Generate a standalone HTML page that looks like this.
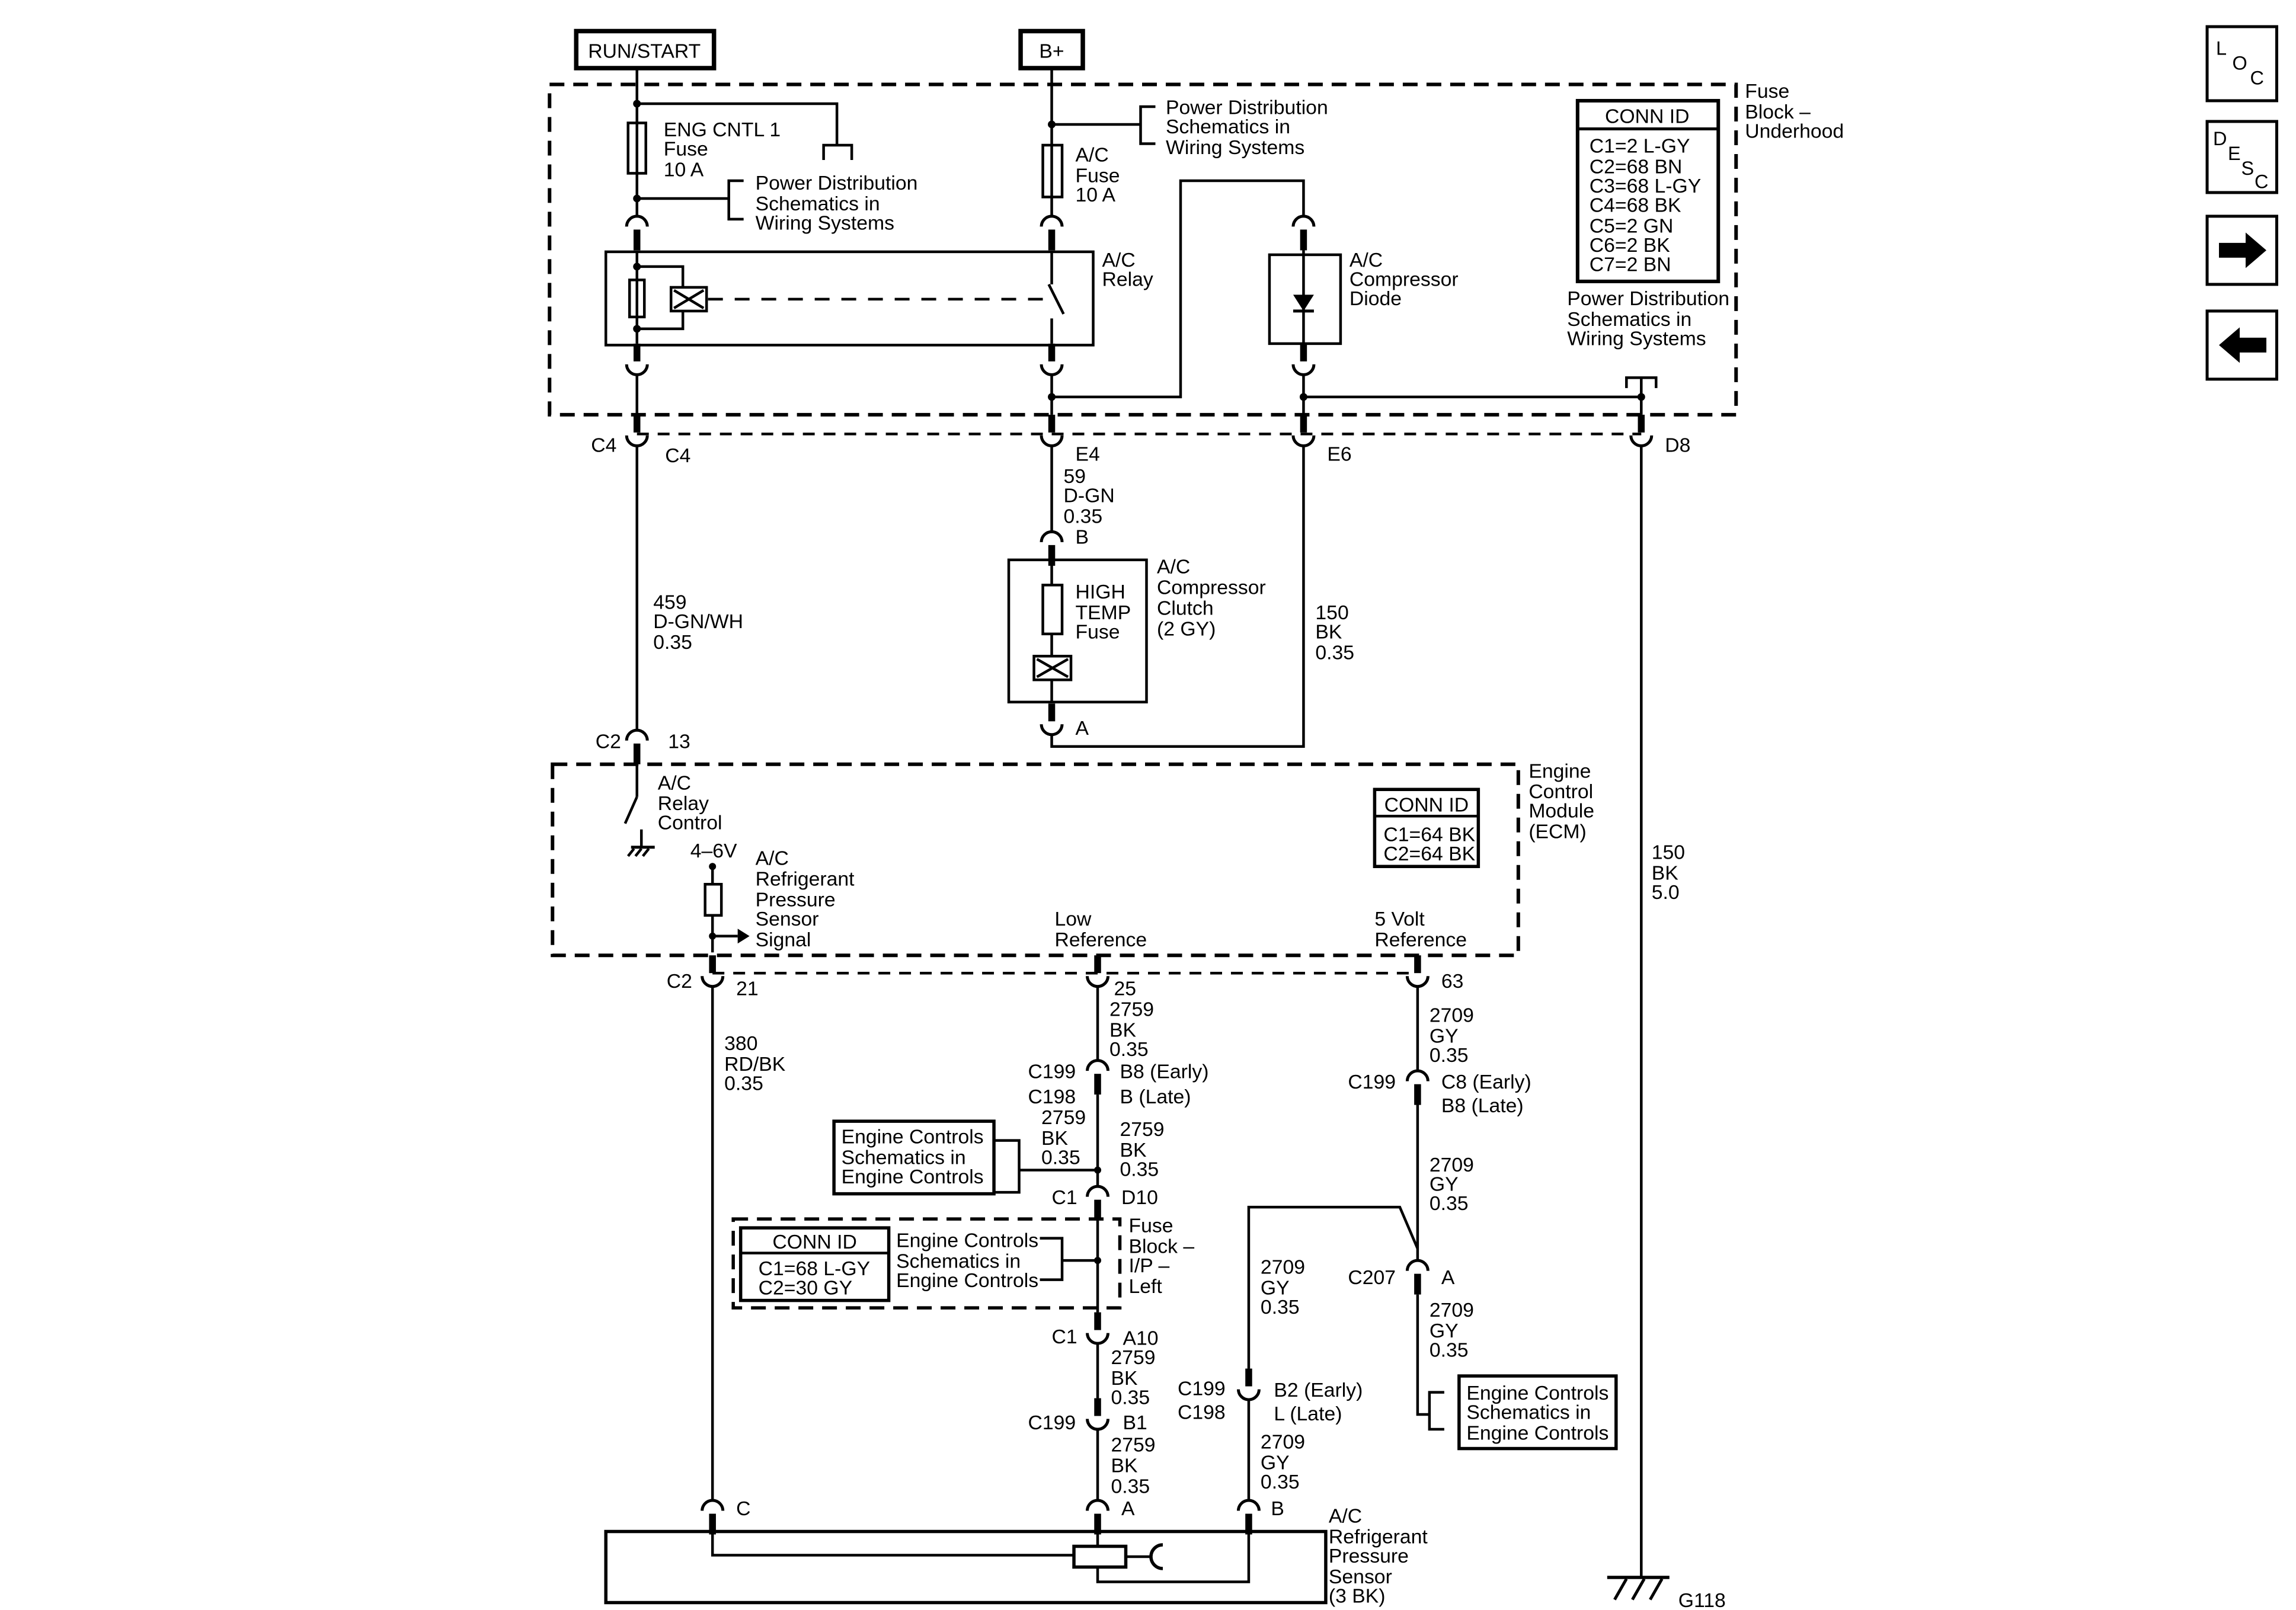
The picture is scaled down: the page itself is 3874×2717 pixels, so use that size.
<!DOCTYPE html>
<html><head><meta charset="utf-8">
<style>
html,body{margin:0;padding:0;background:#fff;}
svg{display:block;}
text{font-family:"Liberation Sans",Arial,sans-serif;font-size:13.5px;fill:#000;}
</style></head>
<body>
<svg width="3874" height="2717" viewBox="0 0 1550 1087" preserveAspectRatio="none" xmlns="http://www.w3.org/2000/svg">
<defs>
<g id="cap"><path d="M-7,0 A7,7 0 0 1 7,0" fill="none" stroke="#000" stroke-width="2"/><rect x="-2.3" y="2" width="4.6" height="14" fill="#000"/></g>
<g id="cup"><path d="M-7,0 A7,7 0 0 0 7,0" fill="none" stroke="#000" stroke-width="2"/><rect x="-2.3" y="-14" width="4.6" height="12" fill="#000"/></g>
</defs>
<rect width="1550" height="1087" fill="#fff"/>
<g stroke="#000" stroke-width="1.8" fill="none">
<!-- power boxes -->
<rect x="389" y="21" width="93" height="25" stroke-width="3"/>
<rect x="689" y="21" width="42" height="25" stroke-width="3"/>
<!-- fuse block dashed -->
<rect x="371" y="57" width="801" height="223" stroke-width="2.4" stroke-dasharray="10,6"/>
<line x1="430" y1="293" x2="1108" y2="293" stroke-dasharray="8,6"/>
<!-- column 430 -->
<line x1="430" y1="46" x2="430" y2="146"/>
<rect x="424" y="83" width="12" height="34"/>
<polyline points="430,70 565,70 565,98"/>
<polyline points="556,108 556,98 575,98 575,108"/>
<line x1="430" y1="134" x2="492" y2="134"/>
<polyline points="502,122 492,122 492,148 502,148"/>
<line x1="430" y1="170" x2="430" y2="232"/>
<rect x="409" y="170" width="329" height="63"/>
<rect x="425" y="189" width="10" height="25"/>
<polyline points="430,180 461,180 461,194"/>
<polyline points="430,222 461,222 461,210"/>
<rect x="453" y="194" width="24" height="16"/>
<path d="M455,196 L475,208 M455,208 L475,196"/>
<line x1="478" y1="202" x2="712" y2="202" stroke-dasharray="10,8"/>
<line x1="430" y1="253" x2="430" y2="280"/>
<line x1="430" y1="301" x2="430" y2="493"/>
<!-- column 710 -->
<line x1="710" y1="46" x2="710" y2="146"/>
<rect x="704" y="98" width="13" height="35"/>
<line x1="710" y1="84" x2="770" y2="84"/>
<polyline points="780,72 770,72 770,97 780,97"/>
<line x1="710" y1="170" x2="710" y2="192"/>
<line x1="708" y1="192" x2="718" y2="212"/>
<line x1="710" y1="215" x2="710" y2="232"/>
<line x1="710" y1="253" x2="710" y2="280"/>
<polyline points="710,268 797,268 797,122 880,122 880,146"/>
<line x1="710" y1="301" x2="710" y2="359"/>
<rect x="681" y="378" width="93" height="96"/>
<line x1="710" y1="378" x2="710" y2="395"/>
<rect x="704" y="395" width="13" height="33"/>
<line x1="710" y1="428" x2="710" y2="443"/>
<rect x="698" y="443" width="25" height="16"/>
<path d="M700,445 L721,457 M700,457 L721,445"/>
<line x1="710" y1="459" x2="710" y2="474"/>
<polyline points="710,496 710,504 880,504 880,301"/>
<!-- column 880 diode -->
<rect x="857" y="172" width="48" height="60"/>
<line x1="880" y1="169" x2="880" y2="232"/>
<line x1="873" y1="210" x2="887" y2="210" stroke-width="2"/>
<line x1="880" y1="253" x2="880" y2="280"/>
<line x1="880" y1="268" x2="1108" y2="268"/>
<line x1="1108" y1="255" x2="1108" y2="280"/>
<polyline points="1098,262 1098,255 1118,255 1118,262"/>
<line x1="1108" y1="301" x2="1108" y2="1065"/>
<!-- ground -->
<line x1="1085" y1="1065" x2="1127" y2="1065" stroke-width="2.2"/>
<path d="M1098,1066 L1090,1080 M1110,1066 L1102,1080 M1122,1066 L1114,1080" stroke-width="2"/>
<!-- conn id top -->
<rect x="1065" y="68" width="95" height="122" stroke-width="2.4"/>
<line x1="1065" y1="87" x2="1160" y2="87" stroke-width="2"/>
<!-- ECM -->
<rect x="373" y="516" width="652" height="129" stroke-width="2.4" stroke-dasharray="10,6"/>
<line x1="481" y1="657" x2="957" y2="657" stroke-dasharray="8,6"/>
<line x1="430" y1="516" x2="430" y2="538"/>
<line x1="430" y1="538" x2="422" y2="556"/>
<line x1="433" y1="560" x2="433" y2="572"/>
<line x1="426" y1="572" x2="442" y2="572" stroke-width="2"/>
<path d="M428,573 L424,578 M433,573 L429,578 M438,573 L434,578"/>
<line x1="481" y1="585" x2="481" y2="597"/>
<rect x="476" y="597" width="11" height="21"/>
<line x1="481" y1="618" x2="481" y2="643"/>
<line x1="481" y1="632" x2="498" y2="632"/>
<rect x="928" y="533" width="70" height="52" stroke-width="2.2"/>
<line x1="928" y1="551" x2="998" y2="551"/>
<!-- col 481 down -->
<line x1="481" y1="666" x2="481" y2="1013"/>
<polyline points="481,1034 481,1050 725,1050"/>
<!-- col 741 -->
<line x1="741" y1="666" x2="741" y2="716"/>
<line x1="741" y1="739" x2="741" y2="801"/>
<line x1="741" y1="824" x2="741" y2="886"/>
<line x1="741" y1="907" x2="741" y2="944"/>
<line x1="741" y1="965" x2="741" y2="1013"/>
<line x1="741" y1="1036" x2="741" y2="1044"/>
<rect x="725" y="1044" width="35" height="14" stroke-width="2.2"/>
<polyline points="741,1058 741,1068 843,1068 843,1036"/>
<line x1="760" y1="1051" x2="777" y2="1051"/>
<path d="M785,1043 A8,8 0 0 0 785,1059" stroke-width="2.2"/>
<rect x="409" y="1034" width="486" height="48" stroke-width="2.2"/>
<rect x="563" y="757" width="108" height="49" stroke-width="2.2"/>
<polyline points="671,770 688,770 688,805 671,805"/>
<line x1="688" y1="790" x2="741" y2="790"/>
<rect x="495" y="823" width="261" height="60" stroke-width="2.2" stroke-dasharray="10,6"/>
<rect x="500" y="829" width="100" height="49" stroke-width="2.2"/>
<line x1="500" y1="846" x2="600" y2="846"/>
<polyline points="702,836 717,836 717,864 702,864"/>
<line x1="717" y1="851" x2="741" y2="851"/>
<!-- col 957 -->
<line x1="957" y1="666" x2="957" y2="723"/>
<line x1="957" y1="745" x2="957" y2="851"/>
<polyline points="843,924 843,815 945,815 957,843"/>
<line x1="843" y1="945" x2="843" y2="1013"/>
<polyline points="957,874 957,955 965,955"/>
<polyline points="975,940 965,940 965,965 975,965"/>
<rect x="985" y="929" width="106" height="49" stroke-width="2.2"/>
<!-- icons -->
<rect x="1490" y="18" width="47" height="50" stroke-width="2"/>
<rect x="1490" y="82" width="47" height="48" stroke-width="2"/>
<rect x="1490" y="146" width="47" height="46" stroke-width="2"/>
<rect x="1490" y="210" width="47" height="46" stroke-width="2"/>
</g>
<!-- filled bits -->
<g fill="#000">
<path d="M873,199 L887,199 L880,210 Z"/>
<path d="M498,627 L506,632 L498,637 Z"/>
<path d="M1498,164 L1516,164 L1516,157 L1530,169 L1516,181 L1516,174 L1498,174 Z"/>
<path d="M1530,228 L1512,228 L1512,221 L1498,233 L1512,245 L1512,238 L1530,238 Z"/>
<circle cx="430" cy="70" r="2.6"/><circle cx="430" cy="134" r="2.6"/>
<circle cx="710" cy="84" r="2.6"/><circle cx="430" cy="180" r="2.6"/><circle cx="430" cy="222" r="2.6"/>
<circle cx="710" cy="268" r="2.6"/><circle cx="880" cy="268" r="2.6"/><circle cx="1108" cy="268" r="2.6"/>
<circle cx="481" cy="585" r="2.4"/><circle cx="481" cy="632" r="2.4"/>
<circle cx="741" cy="790" r="2.4"/><circle cx="741" cy="851" r="2.4"/>
</g>
<!-- connectors -->
<use href="#cap" x="430" y="153"/><use href="#cap" x="710" y="153"/><use href="#cap" x="880" y="153"/>
<use href="#cup" x="430" y="246"/><use href="#cup" x="710" y="246"/><use href="#cup" x="880" y="246"/>
<use href="#cup" x="430" y="294"/><use href="#cup" x="710" y="294"/><use href="#cup" x="880" y="294"/><use href="#cup" x="1108" y="294"/>
<use href="#cap" x="710" y="366"/><use href="#cup" x="710" y="489"/>
<use href="#cap" x="430" y="500"/>
<use href="#cup" x="481" y="659"/><use href="#cup" x="741" y="659"/><use href="#cup" x="957" y="659"/>
<use href="#cap" x="741" y="723"/><use href="#cap" x="741" y="808"/><use href="#cup" x="741" y="900"/><use href="#cup" x="741" y="958"/><use href="#cap" x="741" y="1020"/>
<use href="#cap" x="957" y="730"/><use href="#cap" x="957" y="858"/>
<use href="#cup" x="843" y="938"/><use href="#cap" x="843" y="1020"/><use href="#cap" x="481" y="1020"/>

<!-- text -->
<text x="435" y="39" text-anchor="middle">RUN/START</text>
<text x="710" y="39" text-anchor="middle">B+</text>
<text x="448" y="92">ENG CNTL 1</text><text x="448" y="105">Fuse</text><text x="448" y="119">10 A</text>
<text x="510" y="128">Power Distribution</text><text x="510" y="142">Schematics in</text><text x="510" y="155">Wiring Systems</text>
<text x="726" y="109">A/C</text><text x="726" y="123">Fuse</text><text x="726" y="136">10 A</text>
<text x="787" y="77">Power Distribution</text><text x="787" y="90">Schematics in</text><text x="787" y="104">Wiring Systems</text>
<text x="744" y="180">A/C</text><text x="744" y="193">Relay</text>
<text x="911" y="180">A/C</text><text x="911" y="193">Compressor</text><text x="911" y="206">Diode</text>
<text x="1112" y="83" text-anchor="middle">CONN ID</text>
<text x="1073" y="103">C1=2 L-GY</text><text x="1073" y="117">C2=68 BN</text><text x="1073" y="130">C3=68 L-GY</text><text x="1073" y="143">C4=68 BK</text><text x="1073" y="157">C5=2 GN</text><text x="1073" y="170">C6=2 BK</text><text x="1073" y="183">C7=2 BN</text>
<text x="1058" y="206">Power Distribution</text><text x="1058" y="220">Schematics in</text><text x="1058" y="233">Wiring Systems</text>
<text x="1178" y="66">Fuse</text><text x="1178" y="80">Block –</text><text x="1178" y="93">Underhood</text>
<text x="399" y="305">C4</text><text x="449" y="312">C4</text><text x="726" y="311">E4</text><text x="896" y="311">E6</text><text x="1124" y="305">D8</text>
<text x="718" y="326">59</text><text x="718" y="339">D-GN</text><text x="718" y="353">0.35</text><text x="726" y="367">B</text>
<text x="781" y="387">A/C</text><text x="781" y="401">Compressor</text><text x="781" y="415">Clutch</text><text x="781" y="429">(2 GY)</text>
<text x="726" y="404">HIGH</text><text x="726" y="418">TEMP</text><text x="726" y="431">Fuse</text>
<text x="726" y="496">A</text>
<text x="888" y="418">150</text><text x="888" y="431">BK</text><text x="888" y="445">0.35</text>
<text x="441" y="411">459</text><text x="441" y="424">D-GN/WH</text><text x="441" y="438">0.35</text>
<text x="402" y="505">C2</text><text x="451" y="505">13</text>
<text x="444" y="533">A/C</text><text x="444" y="547">Relay</text><text x="444" y="560">Control</text>
<text x="466" y="579">4–6V</text>
<text x="510" y="584">A/C</text><text x="510" y="598">Refrigerant</text><text x="510" y="612">Pressure</text><text x="510" y="625">Sensor</text><text x="510" y="639">Signal</text>
<text x="712" y="625">Low</text><text x="712" y="639">Reference</text>
<text x="928" y="625">5 Volt</text><text x="928" y="639">Reference</text>
<text x="963" y="548" text-anchor="middle">CONN ID</text><text x="934" y="568">C1=64 BK</text><text x="934" y="581">C2=64 BK</text>
<text x="1032" y="525">Engine</text><text x="1032" y="539">Control</text><text x="1032" y="552">Module</text><text x="1032" y="566">(ECM)</text>
<text x="1115" y="580">150</text><text x="1115" y="594">BK</text><text x="1115" y="607">5.0</text>
<text x="450" y="667">C2</text><text x="497" y="672">21</text>
<text x="752" y="672">25</text><text x="749" y="686">2759</text><text x="749" y="700">BK</text><text x="749" y="713">0.35</text>
<text x="973" y="667">63</text><text x="965" y="690">2709</text><text x="965" y="704">GY</text><text x="965" y="717">0.35</text>
<text x="489" y="709">380</text><text x="489" y="723">RD/BK</text><text x="489" y="736">0.35</text>
<text x="694" y="728">C199</text><text x="694" y="745">C198</text><text x="756" y="728">B8 (Early)</text><text x="756" y="745">B (Late)</text>
<text x="703" y="759">2759</text><text x="703" y="773">BK</text><text x="703" y="786">0.35</text>
<text x="756" y="767">2759</text><text x="756" y="781">BK</text><text x="756" y="794">0.35</text>
<text x="568" y="772">Engine Controls</text><text x="568" y="786">Schematics in</text><text x="568" y="799">Engine Controls</text>
<text x="710" y="813">C1</text><text x="757" y="813">D10</text>
<text x="762" y="832">Fuse</text><text x="762" y="846">Block –</text><text x="762" y="859">I/P –</text><text x="762" y="873">Left</text>
<text x="550" y="843" text-anchor="middle">CONN ID</text><text x="512" y="861">C1=68 L-GY</text><text x="512" y="874">C2=30 GY</text>
<text x="605" y="842">Engine Controls</text><text x="605" y="856">Schematics in</text><text x="605" y="869">Engine Controls</text>
<text x="710" y="907">C1</text><text x="758" y="908">A10</text>
<text x="750" y="921">2759</text><text x="750" y="935">BK</text><text x="750" y="948">0.35</text>
<text x="694" y="965">C199</text><text x="758" y="965">B1</text>
<text x="750" y="980">2759</text><text x="750" y="994">BK</text><text x="750" y="1008">0.35</text>
<text x="757" y="1023">A</text>
<text x="910" y="735">C199</text><text x="973" y="735">C8 (Early)</text><text x="973" y="751">B8 (Late)</text>
<text x="965" y="791">2709</text><text x="965" y="804">GY</text><text x="965" y="817">0.35</text>
<text x="910" y="867">C207</text><text x="973" y="867">A</text>
<text x="965" y="889">2709</text><text x="965" y="903">GY</text><text x="965" y="916">0.35</text>
<text x="990" y="945">Engine Controls</text><text x="990" y="958">Schematics in</text><text x="990" y="972">Engine Controls</text>
<text x="851" y="860">2709</text><text x="851" y="874">GY</text><text x="851" y="887">0.35</text>
<text x="795" y="942">C199</text><text x="795" y="958">C198</text><text x="860" y="943">B2 (Early)</text><text x="860" y="959">L (Late)</text>
<text x="851" y="978">2709</text><text x="851" y="992">GY</text><text x="851" y="1005">0.35</text>
<text x="858" y="1023">B</text><text x="497" y="1023">C</text>
<text x="897" y="1028">A/C</text><text x="897" y="1042">Refrigerant</text><text x="897" y="1055">Pressure</text><text x="897" y="1069">Sensor</text><text x="897" y="1082">(3 BK)</text>
<text x="1133" y="1085">G118</text>
<text x="1496" y="37" style="font-size:13px">L</text><text x="1507" y="47" style="font-size:13px">O</text><text x="1519" y="57" style="font-size:13px">C</text>
<text x="1494" y="98" style="font-size:13px">D</text><text x="1504" y="108" style="font-size:13px">E</text><text x="1513" y="118" style="font-size:13px">S</text><text x="1522" y="127" style="font-size:13px">C</text>
</svg>
</body></html>
